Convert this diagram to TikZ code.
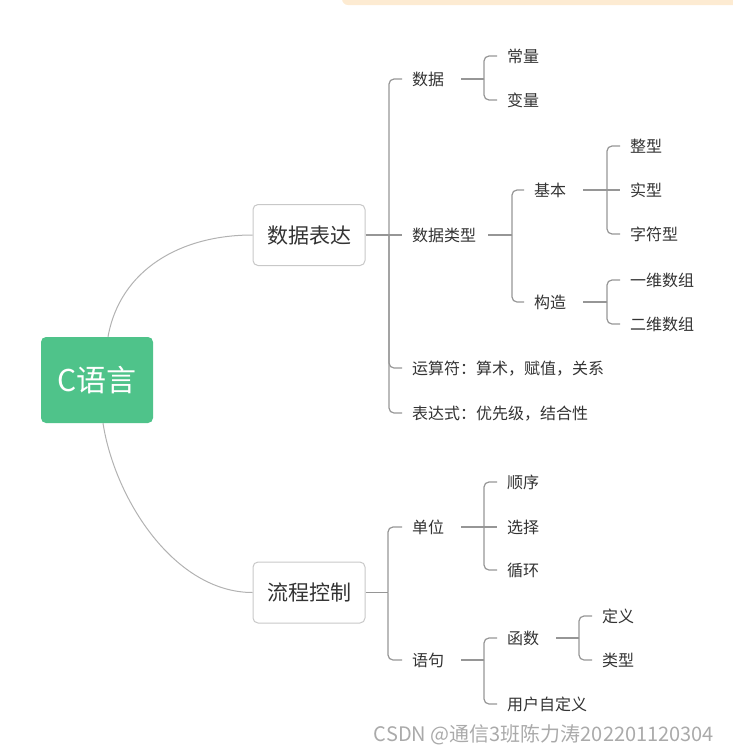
\documentclass[tikz,border=0pt]{standalone}
\usepackage{fontspec}
\setmainfont{Noto Sans CJK SC}
\definecolor{txt}{RGB}{51,51,51}
\definecolor{linegray}{RGB}{150,150,150}
\definecolor{curvegray}{RGB}{178,178,178}
\definecolor{boxborder}{RGB}{200,200,200}
\definecolor{rootgreen}{RGB}{79,195,138}
\definecolor{barc}{RGB}{253,235,210}
\definecolor{wm}{RGB}{170,170,170}
\begin{document}
\begin{tikzpicture}[x=1pt,y=-1pt,
  conn/.style={draw=linegray, line width=1.2pt, rounded corners=5pt},
  curve/.style={draw=curvegray, line width=1pt},
  leaf/.style={font=\fontsize{16}{19}\selectfont, text=txt, inner xsep=10pt, inner ysep=0pt,
     text height=14.1pt, text depth=1.9pt, anchor=west},
  topic/.style={draw=boxborder, line width=1pt, rounded corners=5pt, fill=white, text=txt,
     minimum width=112pt, minimum height=61pt, inner sep=0pt,
     font=\fontsize{21}{25}\selectfont, text height=18.5pt, text depth=2.5pt},
  rootbox/.style={fill=rootgreen, rounded corners=5pt, text=white, minimum width=112pt,
     minimum height=86pt, inner sep=0pt, font=\fontsize{30}{36}\selectfont,
     text height=26.4pt, text depth=3.6pt},
  wmtext/.style={font=\fontsize{20}{24}\selectfont, text=wm, inner sep=0pt,
     text height=17.6pt, text depth=2.4pt}
]
\useasboundingbox (0,0) rectangle (733,753);
\begin{scope}
\clip (0,0) rectangle (733,753);
\fill[barc, rounded corners=6pt] (342,-20) rectangle (760,5);
\end{scope}

% nodes
\node[rootbox] (root) at (97,380) {C语言};
\node[topic] (bx1) at (309,235) {数据表达};
\node[topic] (bx2) at (309,592.5) {流程控制};

\node[leaf] (n1) at (402,79) {数据};
\node[leaf] (n2) at (402,235) {数据类型};
\node[leaf] (n3) at (402,368) {运算符：算术，赋值，关系};
\node[leaf] (n4) at (402,413) {表达式：优先级，结合性};
\node[leaf] (n11) at (497,56) {常量};
\node[leaf] (n12) at (497,100) {变量};
\node[leaf] (n21) at (524,190) {基本};
\node[leaf] (n22) at (524,302) {构造};
\node[leaf] (n211) at (620,146) {整型};
\node[leaf] (n212) at (620,190) {实型};
\node[leaf] (n213) at (620,234) {字符型};
\node[leaf] (n221) at (620,280) {一维数组};
\node[leaf] (n222) at (620,324) {二维数组};

\node[leaf] (m1) at (402,527) {单位};
\node[leaf] (m2) at (402,660) {语句};
\node[leaf] (m11) at (497,482) {顺序};
\node[leaf] (m12) at (497,527) {选择};
\node[leaf] (m13) at (497,570) {循环};
\node[leaf] (m21) at (497,638) {函数};
\node[leaf] (m22) at (497,704) {用户自定义};
\node[leaf] (m211) at (592,616) {定义};
\node[leaf] (m212) at (592,660) {类型};

\node[wmtext] (wmk) at (544,734) {CSDN @通信3班陈力涛202201120304};

% trunk coordinates
\coordinate (tA) at (389,0);
\coordinate (tB) at (484,0);
\coordinate (tC) at (512,0);
\coordinate (tD) at (607,0);
\coordinate (tF) at (388,0);
\coordinate (tG) at (484,0);
\coordinate (tH) at (579,0);

% root curves
\draw[curve] ([xshift=11pt]root.north) .. controls (120,270) and (180,235) .. (bx1.west);
\draw[curve] ([xshift=6pt]root.south) .. controls (115,500) and (175,592.5) .. (bx2.west);

% 数据表达
\draw[conn] (bx1.east) -- (n2.west);
\draw[conn] (tA |- bx1.east) |- (n1.west);
\draw[conn] (tA |- bx1.east) |- (n3.west);
\draw[conn] (tA |- bx1.east) |- (n4.west);
% 数据
\draw[conn] ([xshift=7pt]n1.east) -- (tB |- n1.east);
\draw[conn] (tB |- n1.east) |- (n11.west);
\draw[conn] (tB |- n1.east) |- (n12.west);
% 数据类型
\draw[conn] ([xshift=2pt]n2.east) -- (tC |- n2.east);
\draw[conn] (tC |- n2.east) |- (n21.west);
\draw[conn] (tC |- n2.east) |- (n22.west);
% 基本
\draw[conn] ([xshift=7pt]n21.east) -- (n212.west);
\draw[conn] (tD |- n21.east) |- (n211.west);
\draw[conn] (tD |- n21.east) |- (n213.west);
% 构造
\draw[conn] ([xshift=7pt]n22.east) -- (tD |- n22.east);
\draw[conn] (tD |- n22.east) |- (n221.west);
\draw[conn] (tD |- n22.east) |- (n222.west);

% 流程控制
\draw[conn] (bx2.east) -- (tF |- bx2.east);
\draw[conn] (tF |- bx2.east) |- (m1.west);
\draw[conn] (tF |- bx2.east) |- (m2.west);
% 单位
\draw[conn] ([xshift=7pt]m1.east) -- (m12.west);
\draw[conn] (tG |- m1.east) |- (m11.west);
\draw[conn] (tG |- m1.east) |- (m13.west);
% 语句
\draw[conn] ([xshift=7pt]m2.east) -- (tG |- m2.east);
\draw[conn] (tG |- m2.east) |- (m21.west);
\draw[conn] (tG |- m2.east) |- (m22.west);
% 函数
\draw[conn] ([xshift=7pt]m21.east) -- (tH |- m21.east);
\draw[conn] (tH |- m21.east) |- (m211.west);
\draw[conn] (tH |- m21.east) |- (m212.west);
\end{tikzpicture}
\end{document}
